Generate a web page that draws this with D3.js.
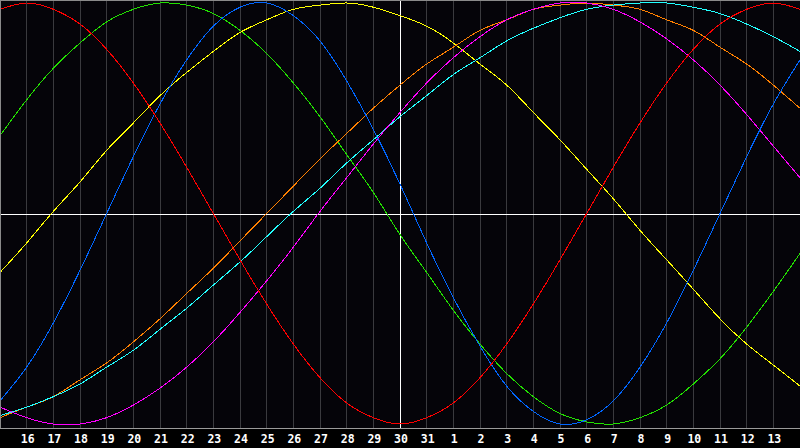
<!DOCTYPE html>
<html><head><meta charset="utf-8">
<script src="https://cdn.jsdelivr.net/npm/d3@7"></script>
<style>html,body{margin:0;padding:0;background:#050409;overflow:hidden}</style>
</head><body>
<svg id="c" width="800" height="448"></svg>
<script>
// Day labels for column indices 0..30 (15th of one month to 14th of the next)
const dayLabels = ["15","16","17","18","19","20","21","22","23","24","25","26","27","28","29","30","31",
  "1","2","3","4","5","6","7","8","9","10","11","12","13","14"];
const shownTicks = d3.range(1, 30);   // labels drawn for indices 1..29
const todayIndex = 15;                // day 30 (white marker line)

// Cycle values (percent, -100..100) read per day from the picture
const physical     = [-89,-73,-52,-27,0,27,52,73,89,98,100,94,82,63,40,14,-14,-40,-63,-82,-94,-100,-98,-89,-73,-52,-27,0,27,52,73];
const emotional    = [97,100,97,90,78,62,43,22,0,-22,-43,-62,-78,-90,-97,-100,-97,-90,-78,-62,-43,-22,0,22,43,62,78,90,97,100,97];
const intellectual = [37,54,69,81,91,97,100,99,95,87,76,62,46,28,10,-10,-28,-46,-62,-76,-87,-95,-99,-100,-97,-91,-81,-69,-54,-37,-19];
const intuitive    = [-92,-97,-100,-100,-97,-91,-83,-73,-61,-47,-32,-16,1,17,33,48,62,74,84,92,97,100,100,97,91,83,73,61,47,32,17];
const aesthetic    = [-28,-14,1,15,30,43,56,67,77,86,92,97,99,100,98,94,89,81,71,61,48,35,21,7,-8,-22,-36,-50,-62,-72,-82];
const awareness    = [-97,-92,-87,-79,-71,-61,-50,-38,-26,-13,0,13,26,38,50,61,71,79,87,92,97,99,100,99,97,92,87,79,71,61,50];
const spiritual    = [-96,-92,-87,-81,-73,-65,-55,-45,-34,-23,-11,1,12,24,35,46,56,66,74,82,88,93,97,99,100,100,98,95,90,84,77];

const seriesList = [
  {name:"intellectual", values:intellectual, color:"#22e000"},
  {name:"aesthetic",    values:aesthetic,    color:"#ffff00"},
  {name:"awareness",    values:awareness,    color:"#ff8000"},
  {name:"spiritual",    values:spiritual,    color:"#22ffff"},
  {name:"intuitive",    values:intuitive,    color:"#ff00ff"},
  {name:"physical",     values:physical,     color:"#0066ff"},
  {name:"emotional",    values:emotional,    color:"#ff0000"}
];

const W = 800, H = 448, plotBottom = 428;
const svg = d3.select("#c");
const x = d3.scaleLinear().domain([0, 30]).range([0, W]);
const y = d3.scaleLinear().domain([-100, 100]).range([424, 3]);
const px = v => Math.floor(v) + 0.5;

svg.append("rect").attr("width", W).attr("height", H).attr("fill", "#050409");

// vertical day grid
const gridAxis = d3.axisBottom(x).tickValues(shownTicks.filter(i => i !== todayIndex))
  .tickSize(plotBottom).tickFormat("");
const gg = svg.append("g").call(gridAxis);
gg.select(".domain").remove();
gg.selectAll(".tick").attr("transform", d => `translate(${px(x(d))},0)`);
gg.selectAll(".tick line").attr("stroke", "#3a3a3e").attr("shape-rendering", "crispEdges");

// center horizontal line
svg.append("line").attr("x1", 0).attr("x2", W)
  .attr("y1", Math.round(y(0)) + 0.5).attr("y2", Math.round(y(0)) + 0.5)
  .attr("stroke", "#ffffff").attr("shape-rendering", "crispEdges");
// today marker
svg.append("line").attr("x1", px(x(todayIndex))).attr("x2", px(x(todayIndex)))
  .attr("y1", 0).attr("y2", plotBottom)
  .attr("stroke", "#ffffff").attr("shape-rendering", "crispEdges");

// curves
const line = d3.line().x((d, i) => x(i)).y(d => y(d)).curve(d3.curveNatural);
svg.append("g").selectAll("path").data(seriesList).join("path")
  .attr("d", s => line(s.values))
  .attr("fill", "none")
  .attr("stroke", s => s.color)
  .attr("stroke-width", 1)
  .attr("shape-rendering", "crispEdges");

// frame lines
svg.append("rect").attr("x", 0).attr("y", plotBottom + 1).attr("width", W).attr("height", H - plotBottom - 1).attr("fill", "#000000");
svg.append("line").attr("x1", 0).attr("x2", W).attr("y1", 0.5).attr("y2", 0.5).attr("stroke", "#8a8a8a").attr("shape-rendering", "crispEdges");
svg.append("line").attr("x1", 0.5).attr("x2", 0.5).attr("y1", 0).attr("y2", plotBottom).attr("stroke", "#8a8a8a").attr("shape-rendering", "crispEdges");
svg.append("line").attr("x1", 0).attr("x2", W).attr("y1", plotBottom + 0.5).attr("y2", plotBottom + 0.5).attr("stroke", "#9a9a9a").attr("shape-rendering", "crispEdges");

// day labels
const labelAxis = d3.axisBottom(x).tickValues(shownTicks).tickSize(0).tickPadding(0)
  .tickFormat(i => dayLabels[i]);
const lg = svg.append("g").attr("transform", `translate(0.5,${plotBottom})`).call(labelAxis);
lg.select(".domain").remove();
lg.selectAll(".tick text")
  .attr("y", 15).attr("dy", 0)
  .attr("fill", "#ffffff")
  .attr("font-family", "'DejaVu Sans Mono', monospace")
  .attr("font-weight", "bold")
  .attr("font-size", "11.5px")
  .attr("text-anchor", "middle");
</script>
</body></html>
